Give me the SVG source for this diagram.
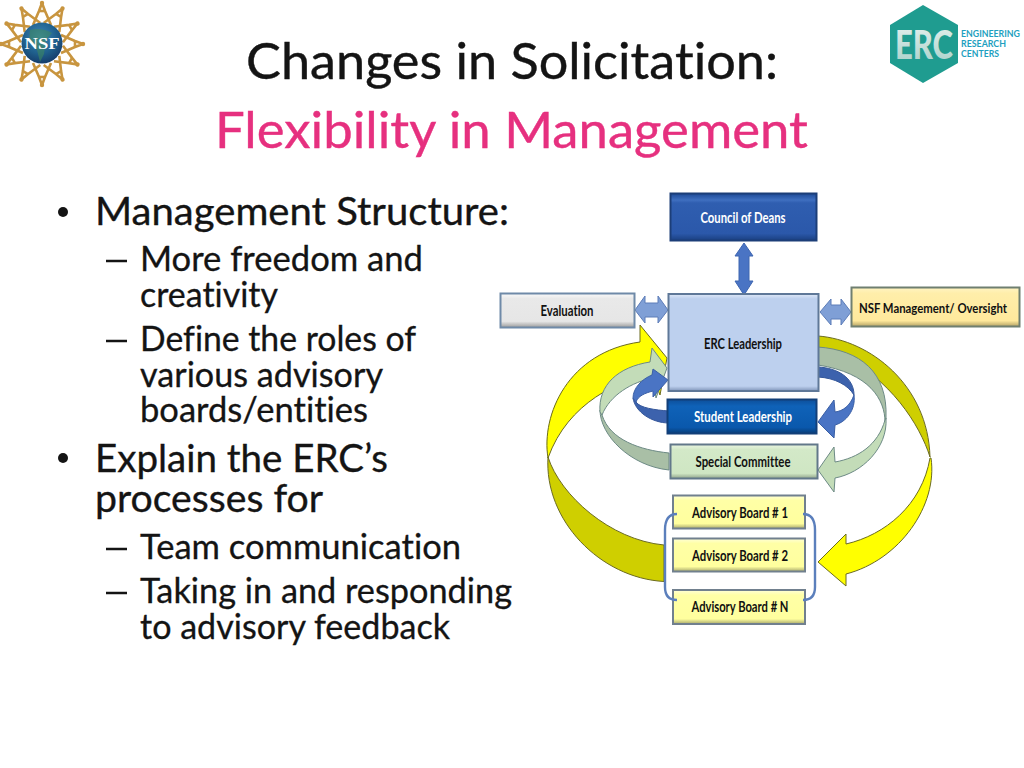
<svg xmlns="http://www.w3.org/2000/svg" xmlns:xlink="http://www.w3.org/1999/xlink" width="1024" height="768" viewBox="0 0 1024 768">
<style>
text{font-family:Lato,"Open Sans","Liberation Sans",sans-serif;font-variant-ligatures:none}
.title{font-size:50px;fill:#141414;stroke:#141414;stroke-width:.4}
.sub{font-size:50px;fill:#e6307f;stroke:#e6307f;stroke-width:.4}
.l1{font-size:38.5px;fill:#141414;stroke:#141414;stroke-width:.35}
.l2{font-size:34px;fill:#141414;stroke:#141414;stroke-width:.3}
.lb{font-size:14.5px;font-weight:700;text-anchor:middle;fill:#111}
.lw{fill:#fff}
.box{stroke-width:2}
.ylw{fill:#ffff00;stroke:#6b6b20;stroke-width:1}
.ydk{fill:#cfcf00;stroke:#6b6b20;stroke-width:1}
.gl{fill:#c3dcb8;stroke:#6d8a85;stroke-width:1}
.gd{fill:#a9bfa6;stroke:#6d8a85;stroke-width:1}
.bl{fill:#4a74c4;stroke:#3a5fa5;stroke-width:1}
.bd{fill:#3c62ad;stroke:#35579a;stroke-width:1}
.dbl{fill:#7f9fd6;stroke:#5d7db8;stroke-width:1}
.ray{fill:none;stroke:#c8953f;stroke-width:2.6;stroke-linejoin:round}
</style>
<defs>
<linearGradient id="gDean" x1="0" y1="0" x2="0" y2="1"><stop offset="0" stop-color="#1d4a96"/><stop offset=".14" stop-color="#3f6fc0"/><stop offset=".2" stop-color="#2f5eb0"/><stop offset=".85" stop-color="#2b58aa"/><stop offset="1" stop-color="#1a3f80"/></linearGradient>
<linearGradient id="gStud" x1="0" y1="0" x2="0" y2="1"><stop offset="0" stop-color="#0d4f9a"/><stop offset=".2" stop-color="#0f62b8"/><stop offset=".82" stop-color="#0a58ac"/><stop offset="1" stop-color="#073d78"/></linearGradient>
<linearGradient id="gErc" x1="0" y1="0" x2="0" y2="1"><stop offset="0" stop-color="#e0e9f7"/><stop offset=".05" stop-color="#bdd0ee"/><stop offset=".95" stop-color="#bdd0ee"/><stop offset="1" stop-color="#7f94b8"/></linearGradient>
<linearGradient id="gEval" x1="0" y1="0" x2="0" y2="1"><stop offset="0" stop-color="#fafafa"/><stop offset=".15" stop-color="#e9e9e9"/><stop offset=".82" stop-color="#e6e6e6"/><stop offset="1" stop-color="#9a9a9a"/></linearGradient>
<linearGradient id="gNsf" x1="0" y1="0" x2="0" y2="1"><stop offset="0" stop-color="#fff4c4"/><stop offset=".15" stop-color="#ffeeaa"/><stop offset=".85" stop-color="#ffe99c"/><stop offset="1" stop-color="#b3a265"/></linearGradient>
<linearGradient id="gSpec" x1="0" y1="0" x2="0" y2="1"><stop offset="0" stop-color="#eaf5e2"/><stop offset=".15" stop-color="#d3e9c8"/><stop offset=".85" stop-color="#cfe6c3"/><stop offset="1" stop-color="#8fa38a"/></linearGradient>
<linearGradient id="gAdv" x1="0" y1="0" x2="0" y2="1"><stop offset="0" stop-color="#ffffd8"/><stop offset=".15" stop-color="#ffffa6"/><stop offset=".85" stop-color="#ffff9e"/><stop offset="1" stop-color="#a8a86c"/></linearGradient>
<radialGradient id="gGlobe" cx=".45" cy=".35" r=".75"><stop offset="0" stop-color="#3d88b8"/><stop offset=".55" stop-color="#1f5f8c"/><stop offset="1" stop-color="#12305f"/></radialGradient>
<linearGradient id="gLogo" x1="0" y1="0" x2="0" y2="1"><stop offset="0" stop-color="#e8f2ef"/><stop offset="1" stop-color="#a6cfc8"/></linearGradient>
<g id="nsfRay"><path class="ray" d="M-9,-19 L-3,-33 L0,-41 L3,-33 L9,-19"/><path class="ray" d="M-3,-33 L3,-33"/><circle cx="0" cy="-41" r="2.2" fill="#c8953f"/></g>
</defs>
<rect width="1024" height="768" fill="#fff"/>

<g id="nsf-logo">
<use xlink:href="#nsfRay" transform="translate(42,44)"/>
<use xlink:href="#nsfRay" transform="translate(42,44) rotate(30)"/>
<use xlink:href="#nsfRay" transform="translate(42,44) rotate(60)"/>
<use xlink:href="#nsfRay" transform="translate(42,44) rotate(90)"/>
<use xlink:href="#nsfRay" transform="translate(42,44) rotate(120)"/>
<use xlink:href="#nsfRay" transform="translate(42,44) rotate(150)"/>
<use xlink:href="#nsfRay" transform="translate(42,44) rotate(180)"/>
<use xlink:href="#nsfRay" transform="translate(42,44) rotate(210)"/>
<use xlink:href="#nsfRay" transform="translate(42,44) rotate(240)"/>
<use xlink:href="#nsfRay" transform="translate(42,44) rotate(270)"/>
<use xlink:href="#nsfRay" transform="translate(42,44) rotate(300)"/>
<use xlink:href="#nsfRay" transform="translate(42,44) rotate(330)"/>
<circle cx="42" cy="43" r="20.5" fill="url(#gGlobe)"/>
<path d="M30,30 Q42,27 52,33 L46,40 L44,54 L40,62 L37,50 L29,40Z" fill="#3f8a5c" opacity=".55"/>
<text x="42" y="49" font-size="16" font-weight="700" fill="#fff" text-anchor="middle" textLength="35" lengthAdjust="spacingAndGlyphs" style="font-family:'Liberation Serif',serif">NSF</text>
</g>

<g id="erc-logo">
<path d="M923,5 L958,25 L958,63 L923,83 L890,63 L890,25Z" fill="#1f9c90"/>
<text x="895" y="59" font-size="39" font-weight="900" fill="url(#gLogo)" textLength="58" lengthAdjust="spacingAndGlyphs">ERC</text>
<g fill="#1e9fc0" font-size="8.500" font-weight="700">
<text x="961" y="37" textLength="59" lengthAdjust="spacingAndGlyphs">ENGINEERING</text>
<text x="961" y="47" textLength="45" lengthAdjust="spacingAndGlyphs">RESEARCH</text>
<text x="961" y="57" textLength="38" lengthAdjust="spacingAndGlyphs">CENTERS</text>
</g>
</g>

<g id="slide-text">
<text class="title" x="246" y="79" textLength="532" lengthAdjust="spacingAndGlyphs">Changes in Solicitation:</text>
<text class="sub" x="215" y="148" textLength="593" lengthAdjust="spacingAndGlyphs">Flexibility in Management</text>
<circle cx="63" cy="212" r="5" fill="#141414"/>
<text class="l1" x="95" y="225" textLength="414" lengthAdjust="spacingAndGlyphs">Management Structure:</text>
<path d="M106,261h21M106,341h21M106,549h21M106,593h21" stroke="#141414" stroke-width="2.6" fill="none"/>
<text class="l2" x="140" y="271" textLength="283" lengthAdjust="spacingAndGlyphs">More freedom and</text>
<text class="l2" x="140" y="307" textLength="138" lengthAdjust="spacingAndGlyphs">creativity</text>
<text class="l2" x="140" y="351" textLength="276" lengthAdjust="spacingAndGlyphs">Define the roles of</text>
<text class="l2" x="140" y="387" textLength="243" lengthAdjust="spacingAndGlyphs">various advisory</text>
<text class="l2" x="140" y="422" textLength="228" lengthAdjust="spacingAndGlyphs">boards/entities</text>
<circle cx="63" cy="458" r="5" fill="#141414"/>
<text class="l1" x="95" y="472" textLength="293" lengthAdjust="spacingAndGlyphs">Explain the ERC’s</text>
<text class="l1" x="95" y="512" textLength="228" lengthAdjust="spacingAndGlyphs">processes for</text>
<text class="l2" x="140" y="559" textLength="321" lengthAdjust="spacingAndGlyphs">Team communication</text>
<text class="l2" x="140" y="603" textLength="372" lengthAdjust="spacingAndGlyphs">Taking in and responding</text>
<text class="l2" x="140" y="639" textLength="310" lengthAdjust="spacingAndGlyphs">to advisory feedback</text>
</g>

<g id="connectors">
<path class="ydk" d="M664,581.500 C600,578 544,520 548,457 C560,495 610,540 664,545Z"/>
<path class="ylw" d="M548,458 C541,415 568,352 640,342 L640,325 L667,358 L660,395 L652,374 C620,380 568,402 548,458Z"/>
<path class="ydk" d="M818,336 C870,340 928,385 930,457 C920,425 890,378 840,355 L818,347Z"/>
<path class="ylw" d="M931,458 C938,505 900,560 846,574 L846,586 L818,562 L846,534 L846,544 C885,535 922,505 930,458Z"/>
<path class="gd" d="M600,410 C600,435 630,466 669,470 L669,453 C640,450 610,440 602,415Z"/>
<path class="gl" d="M600,412 C598,385 618,367 650,362 L652,348 L667,368 L656,398 L653,378 C632,382 610,395 602,415Z"/>
<path class="gd" d="M818,347 C860,350 888,372 886,418 L885,422 C885,400 870,373 818,365Z"/>
<path class="gl" d="M886,418 C888,448 862,473 835,478 L834,492 L818,470 L834,447 L835,462 C858,458 878,445 885,420Z"/>
<path class="bd" d="M633,398 C635,412 652,423 669,423 L669,411 C655,410 640,408 636,402Z"/>
<path class="bl" d="M633,398 C633,388 642,379 652,375 L653,369 L668,380 L653,397 L653,391 C645,393 638,396 636,402Z"/>
<path class="bd" d="M818,367 C838,368 854,378 854,395 C848,385 835,378 818,377Z"/>
<path class="bl" d="M854,395 C856,410 846,422 835,425 L834,438 L818,422 L834,400 L835,412 C843,411 850,406 854,395Z"/>
<path fill="#4a74c4" stroke="#3f66b0" d="M744,243 L753,256 L749,256 L749,281 L753,281 L744,295 L735,281 L739,281 L739,256 L735,256Z"/>
<path class="dbl" d="M635,310 L645,296 L645,303 L658,303 L658,296 L668,310 L658,323 L658,317 L645,317 L645,323Z"/>
<path class="dbl" d="M820,312 L831,299 L831,305 L841,305 L841,299 L851,312 L841,325 L841,319 L831,319 L831,325Z"/>
</g>

<g id="council"><rect class="box" x="670.500" y="193.500" width="146" height="47" fill="url(#gDean)" stroke="#1c3e78"/><text class="lb lw" x="743" y="223" textLength="85" lengthAdjust="spacingAndGlyphs">Council of Deans</text></g>
<g id="evaluation"><rect class="box" x="500.500" y="293.500" width="134" height="34" fill="url(#gEval)" stroke="#6f8aa8"/><text class="lb" x="567" y="316" textLength="53" lengthAdjust="spacingAndGlyphs">Evaluation</text></g>
<g id="nsf-management"><rect class="box" x="851.500" y="287.500" width="168" height="39" fill="url(#gNsf)" stroke="#6f7f70"/><text class="lb" x="933" y="313" textLength="148" lengthAdjust="spacingAndGlyphs" style="font-size:13px">NSF Management/ Oversight</text></g>
<g id="erc-leadership"><rect class="box" x="668.500" y="294" width="150" height="97" fill="url(#gErc)" stroke="#5f7898"/><text class="lb" x="743" y="349" textLength="78" lengthAdjust="spacingAndGlyphs">ERC Leadership</text></g>
<g id="student-leadership"><rect class="box" x="667.500" y="399.500" width="149" height="34" fill="url(#gStud)" stroke="#123f78"/><text class="lb lw" x="743" y="422" textLength="98" lengthAdjust="spacingAndGlyphs">Student Leadership</text></g>
<g id="special-committee"><rect class="box" x="670.500" y="444.500" width="147" height="34" fill="url(#gSpec)" stroke="#62788a"/><text class="lb" x="743" y="467" textLength="95" lengthAdjust="spacingAndGlyphs">Special Committee</text></g>
<g id="advisory-1"><rect class="box" x="673" y="495.500" width="132" height="33" fill="url(#gAdv)" stroke="#71808e"/><text class="lb" x="740" y="518" textLength="96" lengthAdjust="spacingAndGlyphs">Advisory Board # 1</text></g>
<g id="advisory-2"><rect class="box" x="673" y="538.500" width="132" height="33" fill="url(#gAdv)" stroke="#71808e"/><text class="lb" x="740" y="561" textLength="96" lengthAdjust="spacingAndGlyphs">Advisory Board # 2</text></g>
<g id="advisory-n"><rect class="box" x="673" y="590" width="132" height="34" fill="url(#gAdv)" stroke="#71808e"/><text class="lb" x="740" y="612" textLength="97" lengthAdjust="spacingAndGlyphs">Advisory Board # N</text></g>

<g id="brace">
<path d="M677,514 C669,514 665,520 665,530 L665,587 C665,595 669,600 677,600 M803,514 C811,514 815,520 815,530 L815,587 C815,595 811,600 803,600" fill="none" stroke="#5b7fbc" stroke-width="2.400"/>
</g>
</svg>
